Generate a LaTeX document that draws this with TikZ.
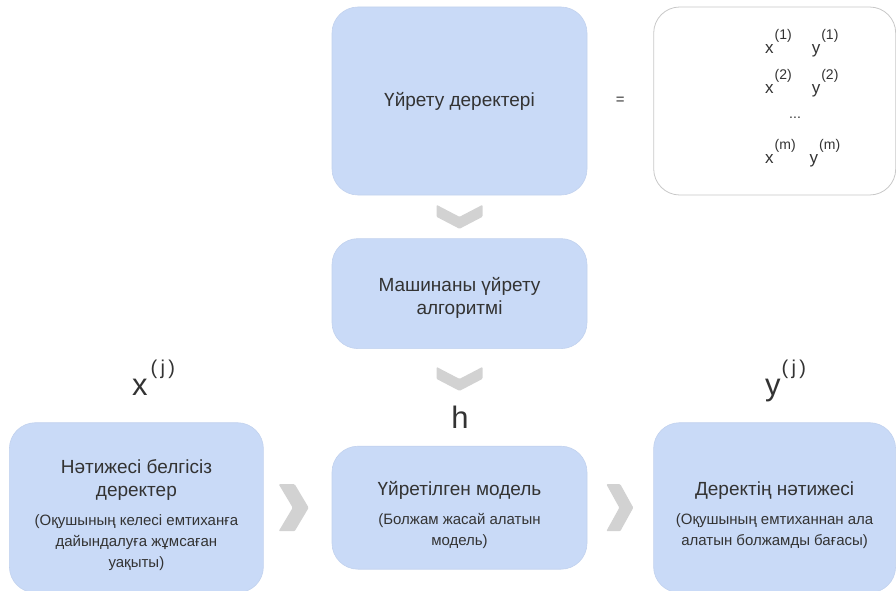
\documentclass[tikz,border=0pt]{standalone}
\usepackage{fontspec}
\setmainfont{Liberation Sans}
\usetikzlibrary{positioning,calc}
\definecolor{Ink}{HTML}{333333}
\definecolor{BoxBlue}{HTML}{C9DAF7}
\definecolor{BoxEdge}{HTML}{C2D2EE}
\definecolor{Frame}{HTML}{C8C8C8}
\definecolor{Chev}{HTML}{D2D2D2}
\newcommand{\headfont}{\fontsize{19}{21}\selectfont}
\newcommand{\notefont}{\fontsize{15}{21}\selectfont}
\newcommand{\supfont}{\fontsize{14}{14}\selectfont}
\newcommand{\pairsup}[1]{\hspace{1pt}\raisebox{14pt}{\supfont(#1)}}
\tikzset{
 bluebox/.style={draw=BoxEdge, line width=0.6pt, rounded corners=26pt, fill=BoxBlue, align=center, inner sep=0pt, text=Ink, font=\notefont},
 framebox/.style={draw=Frame, line width=0.8pt, rounded corners=26pt, fill=white, inner sep=0pt},
 chevfill/.style={fill=Chev, draw=none, rounded corners=1pt},
 bigsym/.style={text=Ink, inner sep=0pt, font=\fontsize{31}{31}\selectfont}
}

\begin{document}
\begin{tikzpicture}[x=1pt,y=-1pt]
\useasboundingbox (0,0) rectangle (896,591);
\node[bluebox,minimum width=255pt,minimum height=188pt] (train) at (459.5,101) {\headfont Үйрету деректері};
\node[framebox,minimum width=242pt,minimum height=188pt,right=66pt of train] (data) {};
\node[text=Ink,font=\fontsize{15}{15}\selectfont] (eq) at ($(train.east)!0.5!(data.west)$) {=};
\node[text=Ink,align=left,inner sep=0pt,font=\fontsize{17}{40}\selectfont] (pairs) at ($(data.center)+(28,-2.5)$) {
x\pairsup{1}\hspace{20pt}y\pairsup{1}\\
x\pairsup{2}\hspace{20pt}y\pairsup{2}\\[-15pt]
\hspace{24pt}\supfont...\\[5pt]
x\pairsup{m}\hspace{14pt}y\pairsup{m}
};
\node[bluebox,minimum width=255pt,minimum height=110pt,below=43pt of train] (algo) {\headfont\rule{0pt}{22pt}Машинаны үйрету\\[2pt]\headfont алгоритмі};
\node[bluebox,minimum width=255pt,minimum height=123pt,below=97pt of algo] (model) {\headfont\rule{0pt}{28pt}Үйретілген модель\\[8pt]\notefont (Болжам жасай алатын\\\notefont модель)};
\node[bluebox,minimum width=254pt,minimum height=170pt,left=68pt of model] (unlab) {\headfont\rule{0pt}{28pt}Нәтижесі белгісіз\\[2pt]\headfont деректер\\[8pt]\notefont (Оқушының келесі емтиханға\\\notefont дайындалуға жұмсаған\\\notefont уақыты)};
\node[bluebox,minimum width=242pt,minimum height=170pt,right=66pt of model] (result) {\headfont\rule{0pt}{28pt}Деректің нәтижесі\\[8pt]\notefont (Оқушының емтиханнан ала\\\notefont алатын болжамды бағасы)};
\node[bigsym,anchor=base west] (xj) at (132,395) {x\hspace{3pt}\raisebox{21pt}{\fontsize{20}{20}\selectfont(\,j\,)}};
\node[bigsym,anchor=base west] (yj) at (765,395) {y\hspace{1pt}\raisebox{21pt}{\fontsize{20}{20}\selectfont(\,j\,)}};
\node[bigsym,anchor=base] (h) at (460,428) {h};
\fill[chevfill,shift={($(train.south)!0.5!(algo.north)$)}] (-23,-12) -- (0,0) -- (23,-12) -- (23,0) -- (0,12) -- (-23,0) -- cycle;
\fill[chevfill,shift={($(algo.south)+(0,30)$)}] (-23,-12) -- (0,0) -- (23,-12) -- (23,0) -- (0,12) -- (-23,0) -- cycle;
\fill[chevfill,shift={($(unlab.east)!0.5!(model.west)+(-4,0)$)}] (-15,-23.5) -- (1,-23.5) -- (15,0) -- (1,23.5) -- (-15,23.5) -- (-1,0) -- cycle;
\fill[chevfill,shift={($(model.east)!0.5!(result.west)$)}] (-14,-23.5) -- (0,-23.5) -- (13,0) -- (0,23.5) -- (-14,23.5) -- (-1,0) -- cycle;
\end{tikzpicture}
\end{document}
